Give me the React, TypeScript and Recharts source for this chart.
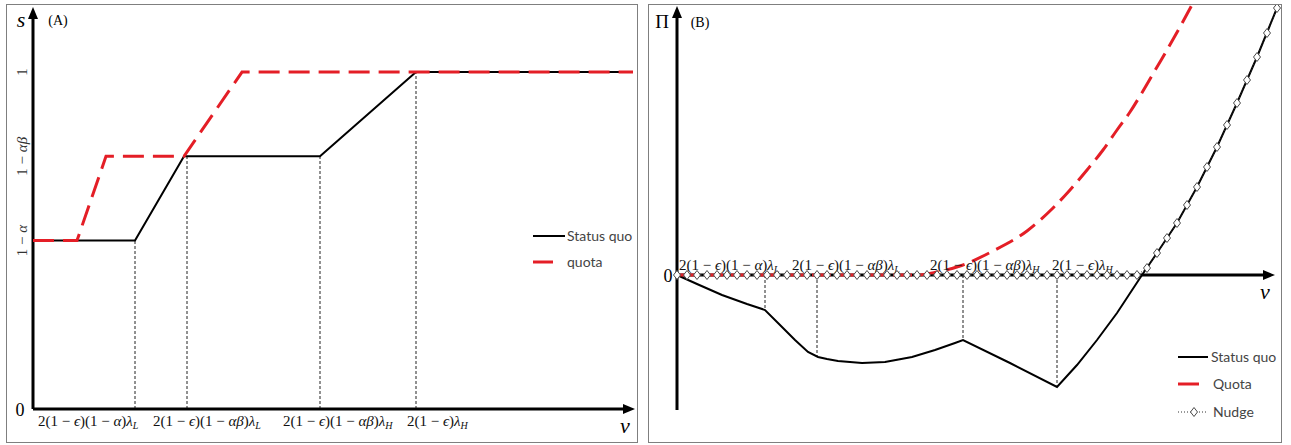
import React from 'react';
import { LineChart, Line, XAxis, YAxis, ReferenceLine, ReferenceDot } from 'recharts';

// ---- panel (A): share s against v ----
const aStatusQuoV = [0, 102, 151, 287, 383, 600];
const aStatusQuoS = [0.5, 0.5, 0.75, 0.75, 1, 1];
const aQuotaV = [0, 44, 73, 151, 209, 600];
const aQuotaS = [0.5, 0.5, 0.75, 0.75, 1, 1];
const aThresholdV = [102, 154, 287, 383];
const aThresholdS = [0.5, 0.75, 0.75, 1];
const aYTicks = [0.5, 0.75, 1];
const aYTickLabels = ['1 − α', '1 − αβ', '1'];

// ---- panel (B): profit Π against v ----
const bStatusQuoV = [0, 20, 45, 70, 88, 101, 118, 131, 141, 150, 161, 185, 208, 235, 258, 278, 286, 333, 380, 400, 420, 440, 465, 480, 500, 520, 540, 560, 580, 600];
const bStatusQuoPi = [0, -9, -20, -29, -35, -48, -65, -77, -82, -84, -86, -88, -87, -82, -75, -68, -65, -88, -112, -90, -65, -38, 0, 22, 52, 88, 128, 172, 218, 267];
const bQuotaV = [0, 240, 260, 283, 316, 350, 376, 393, 410, 426, 440, 453, 466, 480, 490, 503, 516];
const bQuotaPi = [0, 0, 3, 9, 24, 44, 67, 85, 105, 125, 145, 163, 184, 208, 225, 248, 272];
const bNudgeV = [
  0, 10, 20, 30, 40, 50, 60, 70, 80, 90, 100, 110, 120, 130, 140, 150, 160, 170, 180, 190,
  200, 210, 220, 230, 240, 250, 260, 270, 280, 290, 300, 310, 320, 330, 340, 350, 360, 370, 380, 390,
  400, 410, 420, 430, 440, 450, 460, 470, 480, 490, 500, 510, 520, 530, 540, 550, 560, 570, 580, 590, 600,
];
const bNudgePi = [
  0, 0, 0, 0, 0, 0, 0, 0, 0, 0, 0, 0, 0, 0, 0, 0, 0, 0, 0, 0,
  0, 0, 0, 0, 0, 0, 0, 0, 0, 0, 0, 0, 0, 0, 0, 0, 0, 0, 0, 0,
  0, 0, 0, 0, 0, 0, 0, 7, 22, 37, 52, 70, 88, 108, 128, 150, 172, 195, 218, 242, 267,
];
const bThresholdV = [88, 140, 286, 380];
const bThresholdPi = [-35, -81, -65, -112];

const thresholdLabels = [
  { text: '2(1 − ϵ)(1 − α)λ', sub: 'L' },
  { text: '2(1 − ϵ)(1 − αβ)λ', sub: 'L' },
  { text: '2(1 − ϵ)(1 − αβ)λ', sub: 'H' },
  { text: '2(1 − ϵ)λ', sub: 'H' },
];

// label offsets from their threshold (px), panel A then B
const aLabelDx = [-97, -34, -37, -9];
const bLabelDx = [-86, -25, -33, -5];

const RED = '#e41e26';
const MATH_FONT = '"Liberation Serif", "DejaVu Serif", serif';
const SANS = 'Lato, "Open Sans", sans-serif';

const aStatusQuo = aStatusQuoV.map((v, i) => ({ v, y: aStatusQuoS[i] }));
const aQuota = aQuotaV.map((v, i) => ({ v, y: aQuotaS[i] }));
const bStatusQuo = bStatusQuoV.map((v, i) => ({ v, y: bStatusQuoPi[i] }));
const bQuota = bQuotaV.map((v, i) => ({ v, y: bQuotaPi[i] }));
const bNudge = bNudgeV.map((v, i) => ({ v, y: bNudgePi[i] }));

const mathSpans = (s: string) =>
  Array.from(s).map((ch, i) =>
    /[αβϵλ]/.test(ch) ? <tspan key={i} fontStyle="italic">{ch}</tspan> : <tspan key={i}>{ch}</tspan>
  );

const labelShape = (idx: number, dx: number, dy: number) => (p: any) => (
  <text x={p.cx + dx} y={p.cy + dy} fontFamily={MATH_FONT} fontSize={15} fill="#111">
    {mathSpans(thresholdLabels[idx].text)}
    <tspan fontStyle="italic" fontSize={10} dy={3}>{thresholdLabels[idx].sub}</tspan>
  </text>
);

const arrowUp = (p: any) => (
  <polygon points={`${p.cx},${p.cy - 1} ${p.cx - 5},${p.cy + 11} ${p.cx + 5},${p.cy + 11}`} fill="#000" />
);
const arrowRight = (p: any) => (
  <polygon points={`${p.cx + 2},${p.cy} ${p.cx - 10},${p.cy - 5} ${p.cx - 10},${p.cy + 5}`} fill="#000" />
);

const Diamond = (p: any) => {
  const { cx, cy, index } = p;
  if (cx == null || cy == null) return <g key={index} />;
  return (
    <path
      key={index}
      d={`M${cx},${cy - 4.5} L${cx + 3.5},${cy} L${cx},${cy + 4.5} L${cx - 3.5},${cy} Z`}
      fill="#fff"
      stroke="#4a4a4a"
      strokeWidth={1}
    />
  );
};

const PanelA = () => (
  <LineChart width={640} height={445} margin={{ top: 8, right: 7, bottom: 36, left: 33 }}>
    <XAxis type="number" dataKey="v" domain={[0, 600]} hide />
    <YAxis type="number" dataKey="y" domain={[0, 1.19]} hide />
    {aThresholdV.map((v, i) => (
      <ReferenceLine
        key={`a-th-${i}`}
        segment={[{ x: v, y: 0 }, { x: v, y: aThresholdS[i] }]}
        stroke="#222"
        strokeWidth={1}
        strokeDasharray="3 2"
      />
    ))}
    <ReferenceLine segment={[{ x: 0, y: 0 }, { x: 0, y: 1.16 }]} stroke="#000" strokeWidth={3} />
    <ReferenceLine segment={[{ x: 0, y: 0 }, { x: 594, y: 0 }]} stroke="#000" strokeWidth={3} />
    <ReferenceDot x={0} y={1.19} r={0} ifOverflow="visible" shape={arrowUp} />
    <ReferenceDot x={600} y={0} r={0} ifOverflow="visible" shape={arrowRight} />
    {aYTicks.map((t, i) => (
      <ReferenceDot
        key={`a-yt-${i}`}
        x={0}
        y={t}
        r={0}
        ifOverflow="visible"
        shape={(p: any) => (
          <text
            x={p.cx - 6}
            y={p.cy}
            transform={`rotate(-90 ${p.cx - 6} ${p.cy})`}
            textAnchor="middle"
            fontFamily={MATH_FONT}
            fontSize={15}
            fill="#333"
          >
            {mathSpans(aYTickLabels[i])}
          </text>
        )}
      />
    ))}
    {aThresholdV.map((v, i) => (
      <ReferenceDot key={`a-lb-${i}`} x={v} y={0} r={0} ifOverflow="visible" shape={labelShape(i, aLabelDx[i], 17)} />
    ))}
    <Line data={aStatusQuo} dataKey="y" type="linear" stroke="#000" strokeWidth={2} dot={false} activeDot={false} isAnimationActive={false} />
    <Line data={aQuota} dataKey="y" type="linear" stroke={RED} strokeWidth={3} strokeDasharray="21 9" dot={false} activeDot={false} isAnimationActive={false} />
  </LineChart>
);

const PanelB = () => (
  <LineChart width={651} height={445} margin={{ top: 5, right: 14, bottom: 35, left: 37 }}>
    <XAxis type="number" dataKey="v" domain={[0, 600]} hide />
    <YAxis type="number" dataKey="y" domain={[-135, 270]} allowDataOverflow hide />
    {bThresholdV.map((v, i) => (
      <ReferenceLine
        key={`b-th-${i}`}
        segment={[{ x: v, y: 0 }, { x: v, y: bThresholdPi[i] }]}
        stroke="#222"
        strokeWidth={1}
        strokeDasharray="3 2"
      />
    ))}
    <ReferenceLine segment={[{ x: 0, y: -135 }, { x: 0, y: 262 }]} stroke="#000" strokeWidth={3} />
    <ReferenceLine segment={[{ x: 0, y: 0 }, { x: 590, y: 0 }]} stroke="#000" strokeWidth={3} />
    <ReferenceDot x={0} y={268} r={0} ifOverflow="visible" shape={arrowUp} />
    <ReferenceDot x={596} y={0} r={0} ifOverflow="visible" shape={arrowRight} />
    {bThresholdV.map((v, i) => (
      <ReferenceDot key={`b-lb-${i}`} x={v} y={0} r={0} ifOverflow="visible" shape={labelShape(i, bLabelDx[i], -5)} />
    ))}
    <Line data={bStatusQuo} dataKey="y" type="linear" stroke="#000" strokeWidth={2} dot={false} activeDot={false} isAnimationActive={false} />
    <Line data={bNudge} dataKey="y" type="linear" stroke="#333" strokeWidth={1} strokeDasharray="1 2" dot={Diamond} activeDot={false} isAnimationActive={false} />
    <Line data={bQuota} dataKey="y" type="monotone" stroke={RED} strokeWidth={3} strokeDasharray="19 8" dot={false} activeDot={false} isAnimationActive={false} />
  </LineChart>
);

const abs = (left: number, top: number): React.CSSProperties => ({ position: 'absolute', left, top });

export default function App() {
  return (
    <div style={{ position: 'absolute', left: 0, top: 0, width: 1291, height: 445, background: '#fff', overflow: 'hidden' }}>
      <div style={{ ...abs(6, 4), width: 630, height: 437, border: '1px solid #7f7f7f' }} />
      <div style={{ ...abs(648, 4), width: 632, height: 437, border: '1px solid #7f7f7f' }} />
      <div style={abs(0, 0)}>
        <PanelA />
      </div>
      <div style={abs(640, 0)}>
        <PanelB />
      </div>
      <svg width={1291} height={445} style={{ ...abs(0, 0), pointerEvents: 'none' }}>
        {/* panel A annotations */}
        <text x={21} y={27} textAnchor="middle" fontFamily={MATH_FONT} fontStyle="italic" fontSize={22}>s</text>
        <text x={58} y={25} textAnchor="middle" fontFamily={MATH_FONT} fontSize={14}>(A)</text>
        <text x={20} y={416} textAnchor="middle" fontFamily={MATH_FONT} fontSize={18}>0</text>
        <text x={625} y={433} textAnchor="middle" fontFamily={MATH_FONT} fontStyle="italic" fontSize={22}>v</text>
        <line x1={533} y1={236} x2={565} y2={236} stroke="#000" strokeWidth={2} />
        <text x={567} y={241} fontFamily={SANS} fontSize={14} fill="#444">Status quo</text>
        <line x1={533} y1={262} x2={553} y2={262} stroke={RED} strokeWidth={3} />
        <text x={567} y={267} fontFamily={SANS} fontSize={14} fill="#444">quota</text>
        {/* panel B annotations */}
        <text x={662} y={28} textAnchor="middle" fontFamily={MATH_FONT} fontSize={19}>Π</text>
        <text x={700} y={27} textAnchor="middle" fontFamily={MATH_FONT} fontSize={14}>(B)</text>
        <text x={668} y={282} textAnchor="middle" fontFamily={MATH_FONT} fontSize={18}>0</text>
        <text x={1265} y={299} textAnchor="middle" fontFamily={MATH_FONT} fontStyle="italic" fontSize={22}>v</text>
        <line x1={1178} y1={357} x2={1208} y2={357} stroke="#000" strokeWidth={2} />
        <text x={1211} y={362} fontFamily={SANS} fontSize={14} fill="#444">Status quo</text>
        <line x1={1178} y1={384} x2={1199} y2={384} stroke={RED} strokeWidth={3} />
        <text x={1213} y={389} fontFamily={SANS} fontSize={14} fill="#444">Quota</text>
        <line x1={1178} y1={412} x2={1208} y2={412} stroke="#333" strokeWidth={1} strokeDasharray="1 2" />
        <path d="M1194,407.5 L1197.5,412 L1194,416.5 L1190.5,412 Z" fill="#fff" stroke="#4a4a4a" />
        <text x={1213} y={417} fontFamily={SANS} fontSize={14} fill="#444">Nudge</text>
      </svg>
    </div>
  );
}
